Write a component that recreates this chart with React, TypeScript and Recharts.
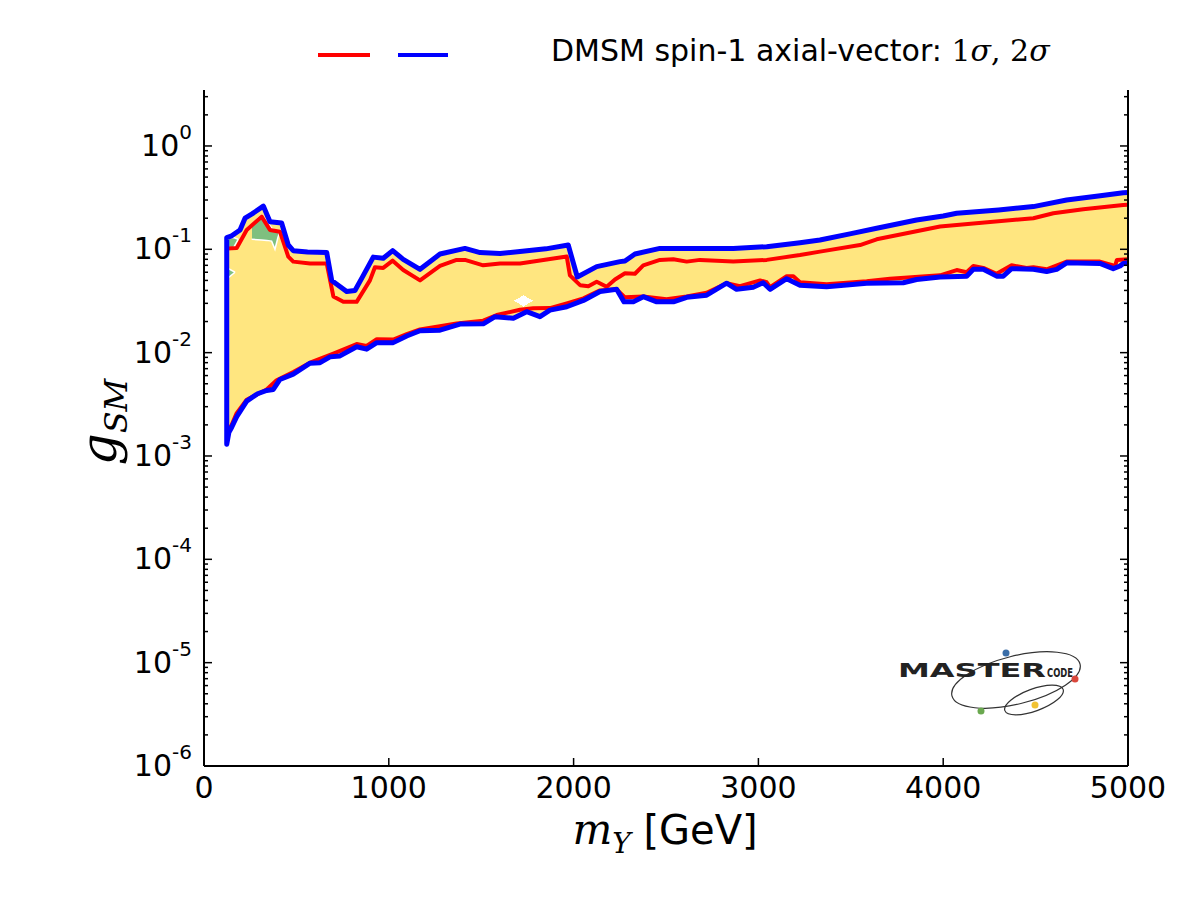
import { ComposedChart, Area, Line, XAxis, YAxis } from 'recharts';

// 2 sigma contour (blue)
const blueUpperMass = [123, 150, 195, 222, 260, 321, 357, 420, 456, 483, 560, 664, 691, 772, 817, 860, 916, 970, 1021, 1078, 1169, 1277, 1412, 1494, 1602, 1710, 1850, 1971, 2020, 2125, 2251, 2278, 2332, 2467, 2700, 2864, 3045, 3225, 3333, 3495, 3640, 3856, 4000, 4073, 4300, 4488, 4668, 4850, 4974, 5000];
const blueUpper = [0.13, 0.135, 0.154, 0.2, 0.22, 0.262, 0.185, 0.18, 0.11, 0.097, 0.094, 0.093, 0.05, 0.039, 0.04, 0.055, 0.084, 0.082, 0.097, 0.08, 0.064, 0.09, 0.102, 0.093, 0.091, 0.095, 0.101, 0.11, 0.054, 0.068, 0.076, 0.077, 0.09, 0.102, 0.102, 0.102, 0.106, 0.116, 0.123, 0.141, 0.16, 0.192, 0.21, 0.223, 0.24, 0.259, 0.3, 0.33, 0.353, 0.355];

const blueLowerMass = [123, 135, 150, 177, 231, 290, 339, 375, 411, 483, 574, 628, 682, 736, 826, 880, 935, 1024, 1097, 1169, 1277, 1385, 1511, 1575, 1674, 1746, 1818, 1872, 1963, 2053, 2143, 2233, 2273, 2323, 2377, 2450, 2540, 2612, 2720, 2828, 2882, 2972, 3026, 3063, 3153, 3225, 3369, 3586, 3784, 3856, 3983, 4127, 4163, 4217, 4289, 4325, 4370, 4488, 4560, 4614, 4668, 4848, 4920, 4957, 4974, 5000];
const blueLower = [0.0013, 0.0017, 0.0019, 0.0024, 0.0034, 0.004, 0.0043, 0.0044, 0.0055, 0.0062, 0.0079, 0.008, 0.0091, 0.0093, 0.0114, 0.0108, 0.0125, 0.0125, 0.0145, 0.0163, 0.0165, 0.0189, 0.019, 0.0223, 0.0215, 0.0249, 0.0223, 0.0258, 0.0278, 0.032, 0.039, 0.041, 0.031, 0.031, 0.0348, 0.031, 0.031, 0.0343, 0.036, 0.047, 0.041, 0.043, 0.0475, 0.041, 0.052, 0.045, 0.0434, 0.047, 0.0475, 0.051, 0.054, 0.055, 0.064, 0.064, 0.055, 0.055, 0.065, 0.064, 0.061, 0.064, 0.074, 0.073, 0.065, 0.069, 0.073, 0.074];

// 1 sigma contour (red)
const redUpperMass = [125, 177, 231, 312, 357, 411, 456, 483, 574, 664, 700, 754, 826, 898, 925, 970, 1021, 1078, 1169, 1277, 1367, 1412, 1511, 1602, 1710, 1963, 1980, 2035, 2080, 2125, 2179, 2224, 2278, 2332, 2377, 2467, 2540, 2612, 2684, 2864, 3045, 3225, 3333, 3550, 3640, 3983, 4488, 4596, 4758, 4974, 5000];
const redUpper = [0.102, 0.103, 0.154, 0.207, 0.154, 0.148, 0.085, 0.076, 0.073, 0.073, 0.035, 0.031, 0.031, 0.05, 0.067, 0.066, 0.0776, 0.063, 0.05, 0.069, 0.079, 0.079, 0.07, 0.073, 0.073, 0.085, 0.056, 0.045, 0.044, 0.0486, 0.0434, 0.051, 0.0586, 0.058, 0.07, 0.079, 0.08, 0.076, 0.079, 0.076, 0.079, 0.088, 0.095, 0.11, 0.125, 0.166, 0.2, 0.223, 0.244, 0.268, 0.27];

const redLowerMass = [125, 150, 177, 231, 339, 393, 483, 574, 700, 826, 880, 935, 1024, 1097, 1169, 1367, 1511, 1584, 1710, 1782, 1872, 1963, 2053, 2143, 2233, 2278, 2377, 2503, 2612, 2720, 2828, 2900, 3009, 3045, 3063, 3153, 3189, 3225, 3369, 3586, 3712, 3983, 4073, 4127, 4163, 4217, 4289, 4370, 4451, 4488, 4560, 4668, 4848, 4930, 4940, 5000];
const redLower = [0.0017, 0.002, 0.0026, 0.0035, 0.0044, 0.0054, 0.0065, 0.008, 0.0098, 0.0121, 0.0116, 0.0135, 0.0134, 0.0151, 0.0168, 0.0192, 0.0204, 0.0231, 0.026, 0.0269, 0.027, 0.03, 0.0335, 0.04, 0.041, 0.0343, 0.035, 0.0328, 0.035, 0.038, 0.047, 0.044, 0.05, 0.048, 0.043, 0.055, 0.055, 0.048, 0.046, 0.049, 0.052, 0.056, 0.063, 0.06, 0.069, 0.066, 0.058, 0.07, 0.066, 0.067, 0.064, 0.076, 0.076, 0.069, 0.079, 0.08];

// green patches near the top-left and the white hole inside the band
const greenMass = [258, 290, 312, 340, 366, 384, 400, 411];
const greenLow = [0.125, 0.124, 0.123, 0.122, 0.12, 0.1, 0.13, 0.148];
const greenHigh = [0.175, 0.2, 0.215, 0.19, 0.16, 0.152, 0.15, 0.148];
const greenEdgeMass = [125, 160, 185];
const greenEdgeLow = [0.104, 0.104, 0.125];
const greenEdgeHigh = [0.128, 0.13, 0.125];
const greenSpotMass = [125, 168];
const greenSpotLow = [0.052, 0.06];
const greenSpotHigh = [0.066, 0.06];
const holeMass = [1678, 1729, 1780];
const holeLow = [0.0318, 0.0279, 0.0318];
const holeHigh = [0.0318, 0.036, 0.0318];

const xTicks = [0, 1000, 2000, 3000, 4000, 5000];
const yExponents = [-6, -5, -4, -3, -2, -1, 0];
const yMajor = yExponents.map((e) => Math.pow(10, e));
const yMinor = yExponents.flatMap((e) => [2, 3, 4, 5, 6, 7, 8, 9].map((k) => k * Math.pow(10, e))).filter((v) => v < 3.48);
const yTicks = [...yMajor, ...yMinor].sort((a, b) => a - b);
const Y_DOMAIN: [number, number] = [1e-6, 3.48];

const pts = (xs: number[], ys: number[]) => xs.map((m, i) => ({ m, g: ys[i] }));
const band = (xs: number[], lo: number[], hi: number[]) => xs.map((m, i) => ({ m, r: [lo[i], hi[i]] }));

const blueUpperData = pts(blueUpperMass, blueUpper);
const blueLowerData = pts(blueLowerMass, blueLower);
const blueContour = [...blueLowerData].reverse().concat(blueUpperData);
const redUpperData = pts(redUpperMass, redUpper);
const redLowerData = pts(redLowerMass, redLower);
const greenData = band(greenMass, greenLow, greenHigh);
const greenEdgeData = band(greenEdgeMass, greenEdgeLow, greenEdgeHigh);
const greenSpotData = band(greenSpotMass, greenSpotLow, greenSpotHigh);
const holeData = band(holeMass, holeLow, holeHigh);

const FONT = '"DejaVu Sans", sans-serif';
const SERIF = '"DejaVu Serif", "Liberation Serif", serif';

const LeftTick = (p: any) => {
  const idx = yMajor.indexOf(p.payload.value);
  if (idx < 0) return <line x1={p.x} x2={p.x + 4} y1={p.y} y2={p.y} stroke="#000" strokeWidth={1.5} />;
  return (
    <g>
      <line x1={p.x} x2={p.x + 8} y1={p.y} y2={p.y} stroke="#000" strokeWidth={1.5} />
      <text x={p.x - 12} y={p.y + 10} textAnchor="end" fontFamily={FONT} fontSize={30} fill="#000">
        <tspan>10</tspan>
        <tspan dy={-17} fontSize={20}>{yExponents[idx]}</tspan>
      </text>
    </g>
  );
};

const RightTick = (p: any) => {
  const len = yMajor.includes(p.payload.value) ? 8 : 4;
  return <line x1={p.x} x2={p.x - len} y1={p.y} y2={p.y} stroke="#000" strokeWidth={1.5} />;
};

const BottomTick = (p: any) => (
  <g>
    <line x1={p.x} x2={p.x} y1={p.y} y2={p.y - 8} stroke="#000" strokeWidth={1.5} />
    <text x={p.x} y={p.y + 32} textAnchor="middle" fontFamily={FONT} fontSize={30} fill="#000">
      {p.payload.value}
    </text>
  </g>
);

const TopTick = (p: any) => <line x1={p.x} x2={p.x} y1={p.y} y2={p.y + 8} stroke="#000" strokeWidth={1.5} />;

const greenProps = { xAxisId: 'b', yAxisId: 'l', dataKey: 'r', type: 'linear' as const, fill: '#7fbf7f', fillOpacity: 1, stroke: '#ffffff', strokeWidth: 1.5, isAnimationActive: false };
const frame = { stroke: '#000', strokeWidth: 2 };

export default function App() {
  return (
    <div style={{ position: 'absolute', left: 0, top: 0, width: 1200, height: 900, background: '#fff', fontFamily: FONT }}>
      <style>{'.recharts-area-area{shape-rendering:crispEdges}'}</style>
      <ComposedChart width={1200} height={900} margin={{ top: 90, right: 0, left: 0, bottom: 0 }}>
        <Area xAxisId="b" yAxisId="l" data={blueUpperData} dataKey="g" type="linear" fill="#ffe680" fillOpacity={1} stroke="none" isAnimationActive={false} />
        <Area xAxisId="b" yAxisId="l" data={blueLowerData} dataKey="g" type="linear" fill="#ffffff" fillOpacity={1} stroke="none" isAnimationActive={false} />
        <Area {...greenProps} data={greenData} />
        <Area {...greenProps} data={greenEdgeData} />
        <Area {...greenProps} data={greenSpotData} />
        <Area xAxisId="b" yAxisId="l" data={holeData} dataKey="r" type="linear" fill="#ffffff" fillOpacity={1} stroke="none" isAnimationActive={false} />
        <Line xAxisId="b" yAxisId="l" data={redUpperData} dataKey="g" type="linear" stroke="#ff0000" strokeWidth={4} dot={false} strokeLinejoin="round" isAnimationActive={false} />
        <Line xAxisId="b" yAxisId="l" data={redLowerData} dataKey="g" type="linear" stroke="#ff0000" strokeWidth={4} dot={false} strokeLinejoin="round" isAnimationActive={false} />
        <Line xAxisId="b" yAxisId="l" data={blueContour} dataKey="g" type="linear" stroke="#0000ff" strokeWidth={5} dot={false} strokeLinejoin="round" isAnimationActive={false} />

        <XAxis xAxisId="t" orientation="top" type="number" dataKey="m" domain={[0, 5000]} ticks={xTicks} height={0} tickSize={0} tickMargin={0} tickLine={false} tick={TopTick} interval={0} axisLine={frame} allowDataOverflow />
        <XAxis xAxisId="b" orientation="bottom" type="number" dataKey="m" domain={[0, 5000]} ticks={xTicks} height={134} tickSize={0} tickMargin={0} tickLine={false} tick={BottomTick} interval={0} axisLine={frame} allowDataOverflow />
        <YAxis yAxisId="l" orientation="left" scale="log" type="number" domain={Y_DOMAIN} ticks={yTicks} width={204} tickSize={0} tickMargin={0} tickLine={false} tick={LeftTick} interval={0} axisLine={frame} allowDataOverflow />
        <YAxis yAxisId="r" orientation="right" scale="log" type="number" domain={Y_DOMAIN} ticks={yTicks} width={72} tickSize={0} tickMargin={0} tickLine={false} tick={RightTick} interval={0} axisLine={frame} allowDataOverflow />
      </ComposedChart>

      {/* header legend */}
      <div style={{ position: 'absolute', left: 318, top: 53, width: 52, height: 4, background: '#ff0000' }} />
      <div style={{ position: 'absolute', left: 398, top: 53, width: 50, height: 4, background: '#0000ff' }} />
      <div style={{ position: 'absolute', left: 551, top: 33, fontSize: 30, lineHeight: '36px', whiteSpace: 'nowrap', color: '#000' }}>
        DMSM spin-1 axial-vector: <span style={{ fontFamily: SERIF }}>1<i>σ</i>, 2<i>σ</i></span>
      </div>

      {/* axis titles */}
      <div style={{ position: 'absolute', left: 0, width: 1330, top: 806, textAlign: 'center', fontSize: 40, lineHeight: '48px', whiteSpace: 'nowrap', color: '#000' }}>
        <span style={{ fontFamily: SERIF, fontStyle: 'italic', fontSize: 42 }}>m<sub style={{ fontSize: 28 }}>Y</sub></span> [GeV]
      </div>
      <div style={{ position: 'absolute', left: 102, top: 422, transform: 'translate(-50%, -50%) rotate(-90deg)', whiteSpace: 'nowrap', fontFamily: SERIF, fontStyle: 'italic', fontSize: 50, color: '#000' }}>
        g<sub style={{ fontSize: 32 }}>SM</sub>
      </div>

      {/* logo */}
      <svg style={{ position: 'absolute', left: 890, top: 640 }} width={210} height={90}>
        <ellipse cx={126} cy={40} rx={66} ry={24} transform="rotate(-14 126 40)" fill="none" stroke="#333" strokeWidth={1.2} />
        <ellipse cx={144} cy={60} rx={31} ry={11} transform="rotate(-20 144 60)" fill="none" stroke="#333" strokeWidth={1.2} />
        <text x={8} y={37} fontFamily={FONT} fontWeight="bold" fontSize={20} textLength={148} lengthAdjust="spacingAndGlyphs" fill="#222">MASTER</text>
        <text x={157} y={37} fontFamily={FONT} fontWeight="bold" fontSize={12} textLength={26} lengthAdjust="spacingAndGlyphs" fill="#222">CODE</text>
        <circle cx={116} cy={13} r={3.5} fill="#3b6ea8" />
        <circle cx={185} cy={39} r={3.5} fill="#d9473b" />
        <circle cx={91} cy={71} r={3.5} fill="#6aa84f" />
        <circle cx={145} cy={65} r={3.5} fill="#f1c232" />
      </svg>
    </div>
  );
}
